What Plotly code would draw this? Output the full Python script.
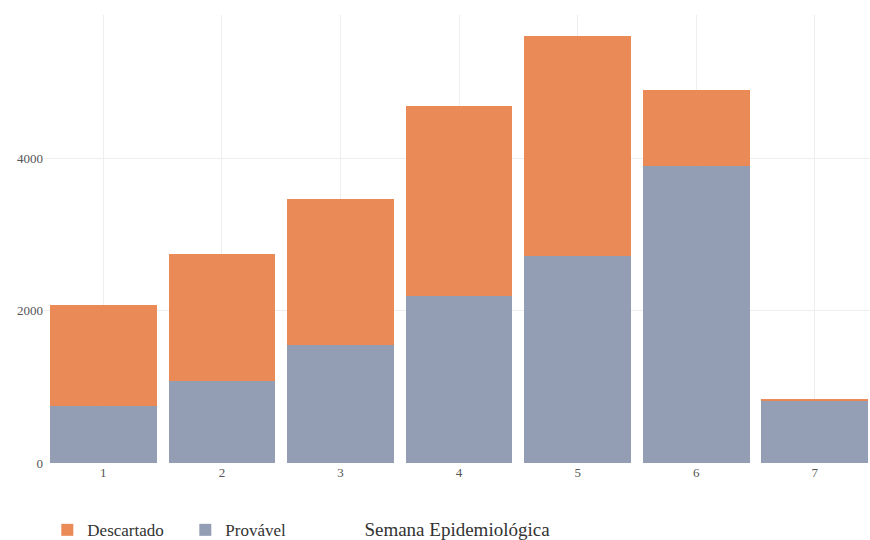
import plotly.graph_objects as go

semanas = [1, 2, 3, 4, 5, 6, 7]
provavel = [748, 1075, 1548, 2190, 2715, 3895, 826]
descartado = [1324, 1666, 1914, 2492, 2885, 997, 18]

fig = go.Figure()
fig.add_trace(go.Bar(x=semanas, y=provavel, name="Provável",
                     marker=dict(color="#8E99B0", line=dict(width=0)), opacity=0.95))
fig.add_trace(go.Bar(x=semanas, y=descartado, name="Descartado",
                     marker=dict(color="#E9854F", line=dict(width=0)), opacity=0.95))

fig.update_layout(
    width=870, height=540,
    barmode="stack", bargap=0.1,
    paper_bgcolor="white", plot_bgcolor="white",
    margin=dict(l=44, r=0, t=15, b=77, autoexpand=False),
    font=dict(family="Liberation Serif", color="#444"),
    legend=dict(orientation="h", traceorder="reversed", x=0.004, xanchor="left",
                y=-0.11, yanchor="top", entrywidth=93, entrywidthmode="pixels",
                font=dict(size=17, color="#333")),
    showlegend=True,
)
fig.update_xaxes(range=[0.5, 7.465], tickmode="array", tickvals=semanas,
                 showgrid=True, gridcolor="#EEEEEE", zeroline=False,
                 tickfont=dict(size=13, color="#555"), ticks="",
                 title=dict(text="Semana Epidemiológica", font=dict(size=19, color="#333"), standoff=43),
                 automargin=False)
fig.update_yaxes(range=[0, 5880], tickvals=[0, 2000, 4000], showgrid=True,
                 gridcolor="#EEEEEE", zeroline=False, tickfont=dict(size=13, color="#555"),
                 automargin=False)

fig.write_html("out.html", config={"displayModeBar": False},
               post_script="document.body.style.margin='0';")
